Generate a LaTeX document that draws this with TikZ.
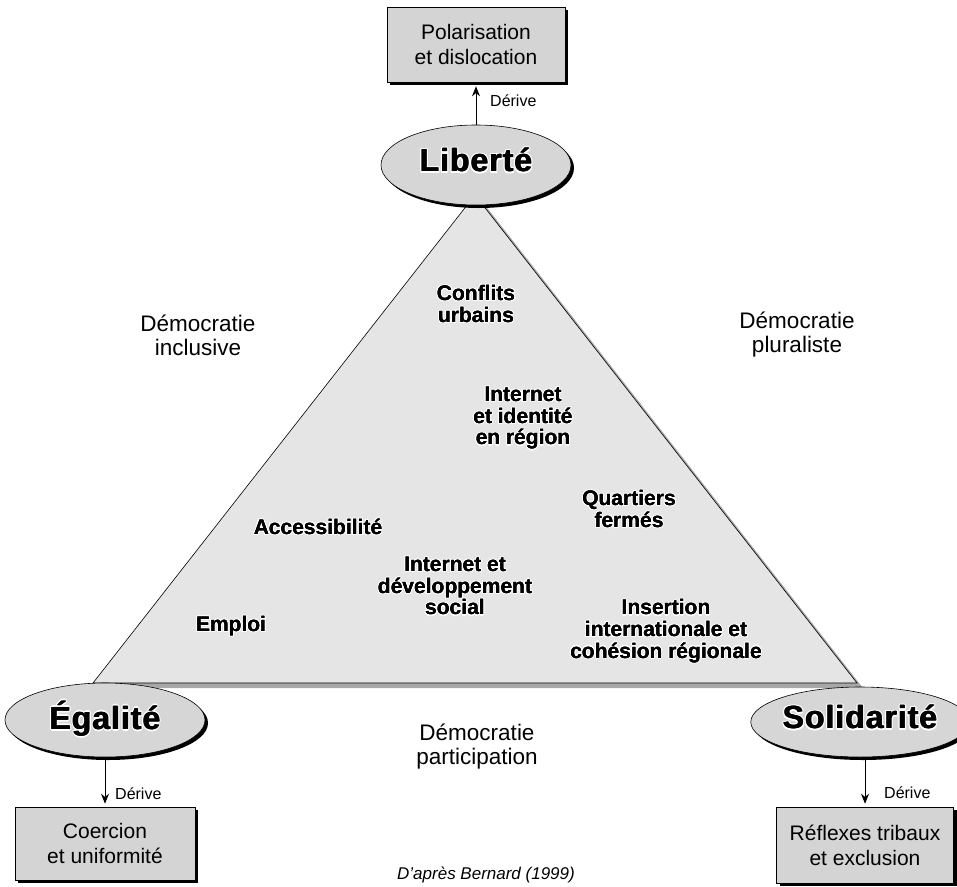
\documentclass[tikz,border=0pt]{standalone}
\usepackage{fontspec}
\setmainfont{Liberation Sans}
\newfontfamily\widefont[LetterSpace=3]{Liberation Sans}
\usetikzlibrary{shapes.geometric,shadows,arrows.meta}
\definecolor{trifill}{gray}{0.9}
\definecolor{trishadow}{gray}{0.66}
\definecolor{ellfill}{gray}{0.84}
\definecolor{boxfill}{gray}{0.83}
\newlength\hl
\hl=1.2pt
\newlength\tk
\tk=0pt
\newcommand\hcp[2]{\rlap{\kern#1\raise#2\copy1}}
\newcommand\bcp[1]{\rlap{\kern#1\copy2}}
\newcommand\myhalo[1]{\setbox1\hbox{\textcolor{white}{\begin{tabular}{@{}c@{}}#1\end{tabular}}}%
\setbox2\hbox{\begin{tabular}{@{}c@{}}#1\end{tabular}}%
\hbox{\hcp{\hl}{0pt}\hcp{-\hl}{0pt}\hcp{0pt}{\hl}\hcp{0pt}{-\hl}\hcp{.7\hl}{.7\hl}\hcp{-.7\hl}{.7\hl}\hcp{.7\hl}{-.7\hl}\hcp{-.7\hl}{-.7\hl}\bcp{\tk}\bcp{-\tk}\box2}}
\tikzset{
  boxnode/.style={draw=black, line width=0.6pt, fill=boxfill, minimum width=178pt, minimum height=75pt, align=center, inner sep=0pt, font=\fontsize{21}{25}\selectfont, drop shadow={shadow xshift=3pt, shadow yshift=-3pt, fill=black, opacity=1}},
  ellnode/.style={ellipse, draw=black, line width=0.6pt, fill=ellfill, inner sep=0pt, font=\widefont\bfseries\fontsize{32}{32}\selectfont, drop shadow={shadow xshift=3pt, shadow yshift=-3pt, fill=black, opacity=1}},
  innertxt/.style={font=\bfseries\fontsize{21}{21}\selectfont, inner sep=0pt},
  demo/.style={font=\fontsize{22.5}{24}\selectfont, align=center, inner sep=0pt},
  deriv/.style={font=\fontsize{16}{16}\selectfont, inner sep=0pt, anchor=west},
  arr/.style={-{Stealth[length=10pt,width=8pt]}, line width=0.8pt}
}
\begin{document}
\begin{tikzpicture}[x=1pt,y=-1pt]
\useasboundingbox (0,0) rectangle (957,886);
% triangle
\fill[trishadow] (481,200) -- (863,688) -- (99,688) -- cycle;
\draw[fill=trifill, line width=0.6pt] (475,195) -- (857,683) -- (93,683) -- cycle;
% top
\node[boxnode] (pol) at (476,44.5) {Polarisation\\et dislocation};
\node[ellnode, minimum width=190pt, minimum height=80pt] (lib) at (476,165) {{\hl=1.7pt\tk=0.45pt\myhalo{Liberté}}};
\draw[arr] (lib.north) -- ([yshift=-4pt]pol.south);
\node[deriv] (d1) at (490,101) {Dérive};
% bottom left
\node[ellnode, minimum width=200pt, minimum height=74pt] (ega) at (105,720) {{\hl=1.7pt\tk=0.45pt\myhalo{Égalité}}};
\node[boxnode, minimum width=180pt, minimum height=73pt] (coe) at (105,843.5) {Coercion\\et uniformité};
\draw[arr] (ega.south) -- ([yshift=3pt]coe.north);
\node[deriv] (d2) at (115,794) {Dérive};
% bottom right
\node[ellnode, minimum width=190pt, minimum height=70pt] (sol) at (860,722) {{\hl=1.7pt\tk=0.45pt\myhalo{Solidarité}}};
\node[boxnode, minimum width=177pt, minimum height=76pt] (ref) at (865,845) {Réflexes tribaux\\et exclusion};
\draw[arr] (sol.south -| ref.north) -- ([yshift=3pt]ref.north);
\node[deriv] (d3) at (884,793) {Dérive};
% democracy labels
\node[demo] (dinc) at (198,335) {Démocratie\\inclusive};
\node[demo] (dplu) at (797,335) {Démocratie\\pluraliste};
\node[demo] (dpar) at (477,747) {Démocratie\\participation};
% inner labels
\node[innertxt] (conf) at (476,307) {\myhalo{Conflits\\urbains}};
\node[innertxt] (intid) at (523,419) {\myhalo{Internet\\et identité\\en région}};
\node[innertxt] (quar) at (629,512) {\myhalo{Quartiers\\fermés}};
\node[innertxt] (ins) at (666,632) {\myhalo{Insertion\\internationale et\\cohésion régionale}};
\node[innertxt] (acc) at (318,530) {\myhalo{Accessibilité}};
\node[innertxt] (intdev) at (455,589) {\myhalo{Internet et\\développement\\social}};
\node[innertxt] (empl) at (231,627) {\myhalo{Emploi}};
% source
\node[font=\itshape\fontsize{17}{17}\selectfont, inner sep=0pt] (src) at (486,875) {D'après Bernard (1999)};
\end{tikzpicture}
\end{document}
